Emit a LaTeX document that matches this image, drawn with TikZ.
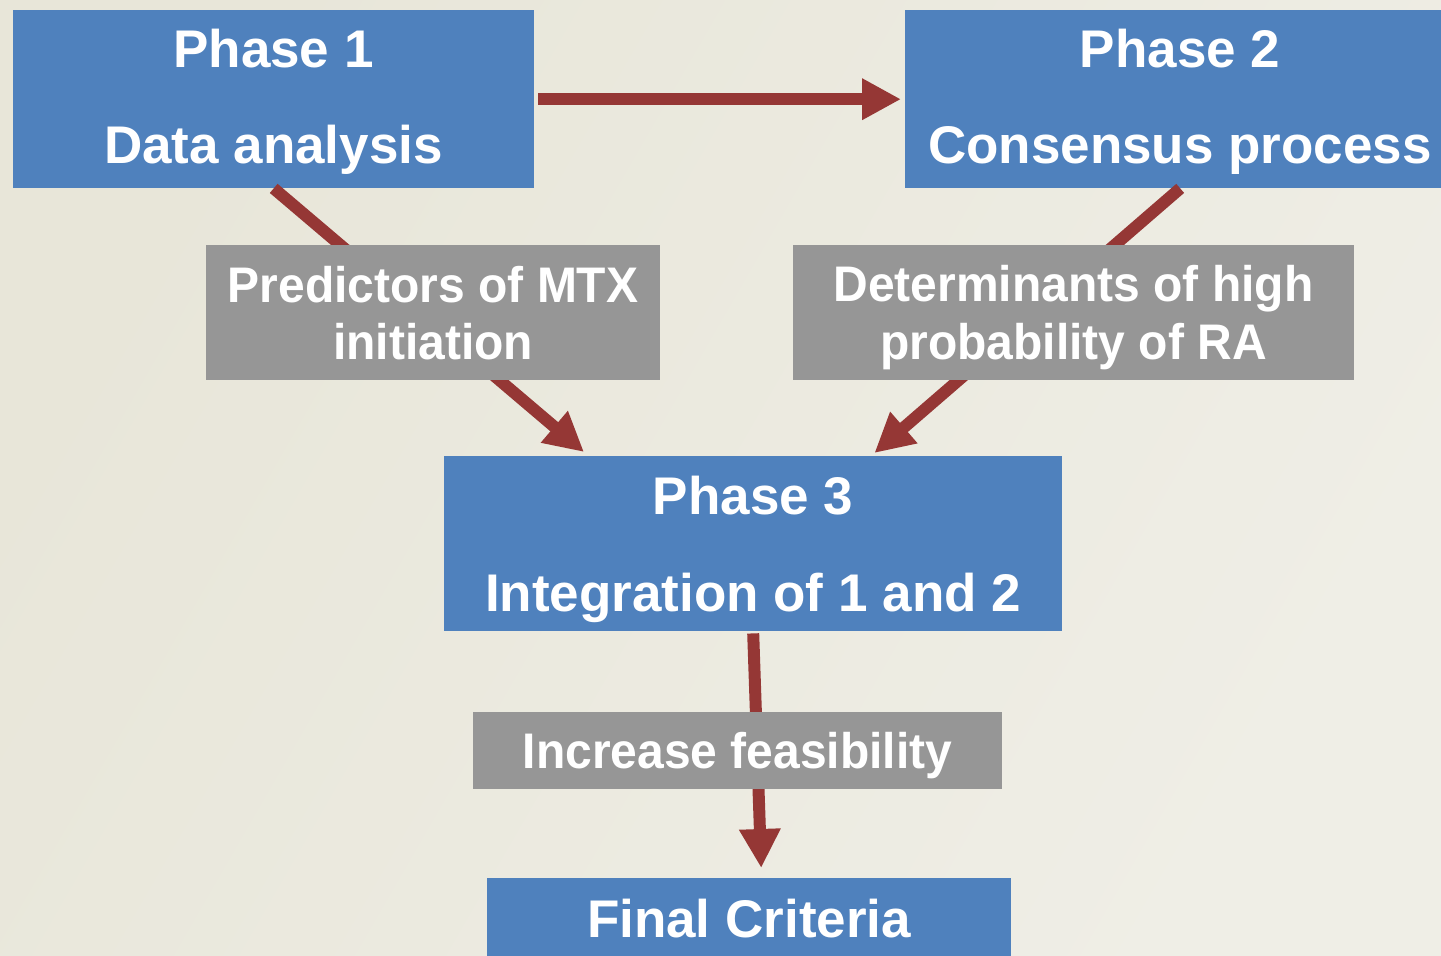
\documentclass[tikz,border=0pt]{standalone}
\usepackage{fontspec}
\setmainfont{Liberation Sans}
\newfontfamily\narrowsans{Liberation Sans}[FakeStretch=0.96]
\usetikzlibrary{arrows.meta}
\definecolor{boxblue}{HTML}{4F81BD}
\definecolor{boxgray}{HTML}{969696}
\definecolor{flowred}{HTML}{953735}
\definecolor{bgleft}{HTML}{E8E6D9}
\definecolor{bgright}{HTML}{EFEEE6}
\begin{document}
\begin{tikzpicture}[x=1pt,y=-1pt,
  bluebox/.style={fill=boxblue, inner sep=0pt, anchor=north west},
  graybox/.style={fill=boxgray, inner sep=0pt, anchor=north west},
  bigtext/.style={text=white, inner sep=0pt, anchor=base,
    font=\fontsize{53}{60}\selectfont\bfseries},
  midtext/.style={text=white, inner sep=0pt, anchor=base,
    font=\narrowsans\fontsize{50}{57}\selectfont\bfseries},
  flow/.style={draw=flowred, line width=12pt,
    -{Triangle[length=39pt,width=39pt]}}]
% page area and background
\useasboundingbox (0,0) rectangle (1441,956);
\clip (0,0) rectangle (1441,956);
\shade[left color=bgleft, right color=bgright, shading angle=60]
  (0,0) rectangle (1441,956);

% phase boxes
\node[bluebox, minimum width=521pt, minimum height=178pt] (p1) at (13,10) {};
\node[bluebox, minimum width=550pt, minimum height=178pt] (p2) at (905,10) {};
\node[bluebox, minimum width=618pt, minimum height=175pt] (p3) at (444,456) {};
\node[bluebox, minimum width=524pt, minimum height=100pt] (fin) at (487,878) {};

% connectors, drawn beneath the grey label boxes
\draw[flow] ([xshift=4pt]p1.east) -- ([xshift=-4pt]p2.west);
\draw[flow] (p1.south) -- ([xshift=140pt,yshift=4pt]p3.north west);
\draw[flow] (p2.south) -- ([xshift=-188pt,yshift=3pt]p3.north east);
\draw[flow] ([yshift=-2pt]p3.south) -- ([xshift=12pt,yshift=10pt]fin.north);

% grey label boxes
\node[graybox, minimum width=454pt, minimum height=135pt] (g1) at (206,245) {};
\node[graybox, minimum width=561pt, minimum height=135pt] (g2) at (793,245) {};
\node[graybox, minimum width=529pt, minimum height=77pt] (g3) at (473,712) {};

% texts
\node[bigtext] (t1a) at (273.5,67) {Phase 1};
\node[bigtext] (t1b) at (273.5,163) {Data analysis};
\node[bigtext] (t2a) at (1180,67) {Phase 2};
\node[bigtext] (t2b) at (1180,163) {Consensus process};
\node[bigtext] (t3a) at (753,514) {Phase 3};
\node[bigtext] (t3b) at (753,611) {Integration of 1 and 2};
\node[bigtext] (t4) at (749,937) {Final Criteria};
\node[midtext] (g1a) at (433,302) {Predictors of MTX};
\node[midtext] (g1b) at (433,359) {initiation};
\node[midtext] (g2a) at (1073.5,301) {Determinants of high};
\node[midtext] (g2b) at (1073.5,359) {probability of RA};
\node[midtext] (g3a) at (737.5,768) {Increase feasibility};
\end{tikzpicture}
\end{document}
